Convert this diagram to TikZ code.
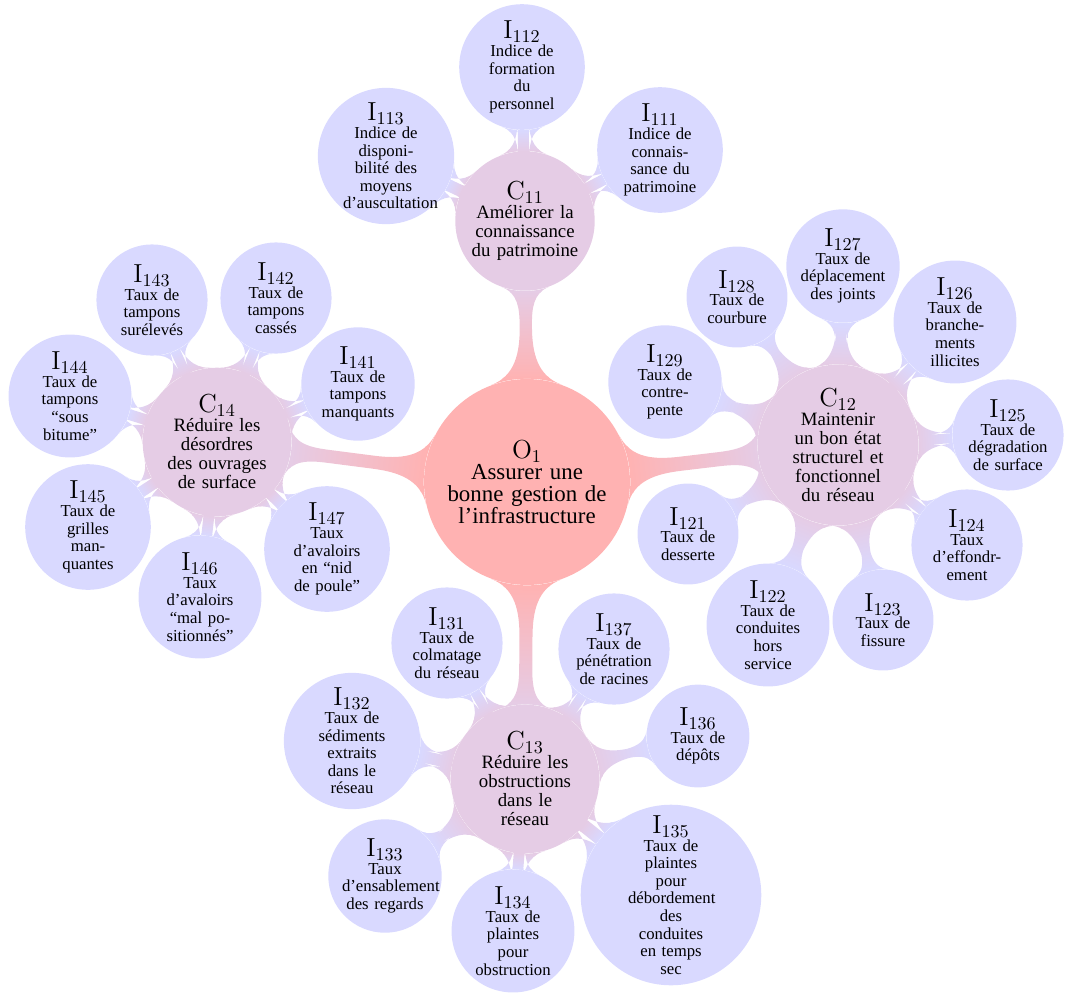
\documentclass[tikz,border=0pt]{standalone}
\usepackage[no-math]{fontspec}
\setmainfont{Liberation Serif}
\usetikzlibrary{mindmap,backgrounds}
\newcommand{\lab}[2]{{\fontsize{13.8}{14}\selectfont$\mathrm{#1}_{#2}$}}
\tikzset{
  objective/.style={circle,fill=red!30,inner sep=0pt,minimum size=113.8pt,
    text width=100pt,align=center,font=\fontsize{12.65}{12}\selectfont},
  criterion/.style={circle,fill=violet!20,inner sep=0pt,
    text width=63.5pt,align=center,font=\fontsize{10.4}{10.5}\selectfont},
  indicator/.style={circle,fill=blue!15,inner sep=0pt,
    text width=47.5pt,align=center,font=\fontsize{9.25}{9.72}\selectfont},
  rootlink/.style={circle connection bar switch color=from (red!30) to (violet!20),line width=8pt},
  leaflink/.style={circle connection bar switch color=from (violet!20) to (blue!15),line width=5.5pt}
}
\begin{document}
\begin{tikzpicture}[x=0.5525pt,y=-0.5525pt]
  \useasboundingbox (0,0) rectangle (1065,994);

  \node[objective] (o1) at (527,482)
    {\lab{O}{1}\\Assurer une\\bonne gestion de\\l’infrastructure};

  % criteres
  \node[criterion] (c11) at (525,221)
    {\lab{C}{11}\\Améliorer la\\connaissance\\du patrimoine};
  \node[criterion] (c12) at (838,445)
    {\lab{C}{12}\\Maintenir\\un bon état\\structurel et\\fonctionnel\\du réseau};
  \node[criterion] (c13) at (525,779)
    {\lab{C}{13}\\Réduire les\\obstructions\\dans le\\réseau};
  \node[criterion] (c14) at (217,442)
    {\lab{C}{14}\\Réduire les\\désordres\\des ouvrages\\de surface};

  % indicateurs C11
  \node[indicator] (i111) at (660,150)
    {\lab{I}{111}\\Indice de\\connais-\\sance du\\patrimoine};
  \node[indicator] (i112) at (522,67)
    {\lab{I}{112}\\Indice de\\formation\\du\\personnel};
  \node[indicator] (i113) at (386,156)
    {\lab{I}{113}\\Indice de\\disponi-\\bilité des\\moyens\\d’auscultation};

  % indicateurs C12
  \node[indicator] (i121) at (688,534) {\lab{I}{121}\\Taux de\\desserte};
  \node[indicator] (i122) at (768,625) {\lab{I}{122}\\Taux de\\conduites\\hors\\service};
  \node[indicator] (i123) at (883,620) {\lab{I}{123}\\Taux de\\fissure};
  \node[indicator] (i124) at (967,545) {\lab{I}{124}\\Taux\\d’effondr-\\ement};
  \node[indicator] (i125) at (1008,435) {\lab{I}{125}\\Taux de\\dégradation\\de surface};
  \node[indicator] (i126) at (955,322) {\lab{I}{126}\\Taux de\\branche-\\ments\\illicites};
  \node[indicator] (i127) at (843,266) {\lab{I}{127}\\Taux de\\déplacement\\des joints};
  \node[indicator] (i128) at (737,297) {\lab{I}{128}\\Taux de\\courbure};
  \node[indicator] (i129) at (665,382) {\lab{I}{129}\\Taux de\\contre-\\pente};

  % indicateurs C13
  \node[indicator] (i131) at (447,643) {\lab{I}{131}\\Taux de\\colmatage\\du réseau};
  \node[indicator] (i132) at (352,741) {\lab{I}{132}\\Taux de\\sédiments\\extraits\\dans le\\réseau};
  \node[indicator] (i133) at (385,876) {\lab{I}{133}\\Taux\\d’ensablement\\des regards};
  \node[indicator] (i134) at (513,931) {\lab{I}{134}\\Taux de\\plaintes\\pour\\obstruction};
  \node[indicator] (i135) at (671,895)
    {\lab{I}{135}\\Taux de\\plaintes\\pour\\débordement\\des\\conduites\\en temps\\sec};
  \node[indicator] (i136) at (698,736) {\lab{I}{136}\\Taux de\\dépôts};
  \node[indicator] (i137) at (614,649) {\lab{I}{137}\\Taux de\\pénétration\\de racines};

  % indicateurs C14
  \node[indicator] (i141) at (358,384) {\lab{I}{141}\\Taux de\\tampons\\manquants};
  \node[indicator] (i142) at (276,298) {\lab{I}{142}\\Taux de\\tampons\\cassés};
  \node[indicator] (i143) at (152,300) {\lab{I}{143}\\Taux de\\tampons\\surélevés};
  \node[indicator] (i144) at (70,396) {\lab{I}{144}\\Taux de\\tampons\\“sous\\bitume”};
  \node[indicator] (i145) at (88,527) {\lab{I}{145}\\Taux de\\grilles\\man-\\quantes};
  \node[indicator] (i146) at (200,597) {\lab{I}{146}\\Taux\\d’avaloirs\\“mal po-\\sitionnés”};
  \node[indicator] (i147) at (327,549) {\lab{I}{147}\\Taux\\d’avaloirs\\en “nid\\de poule”};

  \begin{scope}[on background layer]
    \foreach \c in {c11,c12,c13,c14}
      \path (o1) to[rootlink] (\c);
    \foreach \i in {111,112,113}
      \path (c11) to[leaflink] (i\i);
    \foreach \i in {121,...,129}
      \path (c12) to[leaflink] (i\i);
    \foreach \i in {131,...,137}
      \path (c13) to[leaflink] (i\i);
    \foreach \i in {141,...,147}
      \path (c14) to[leaflink] (i\i);
  \end{scope}
\end{tikzpicture}
\end{document}
